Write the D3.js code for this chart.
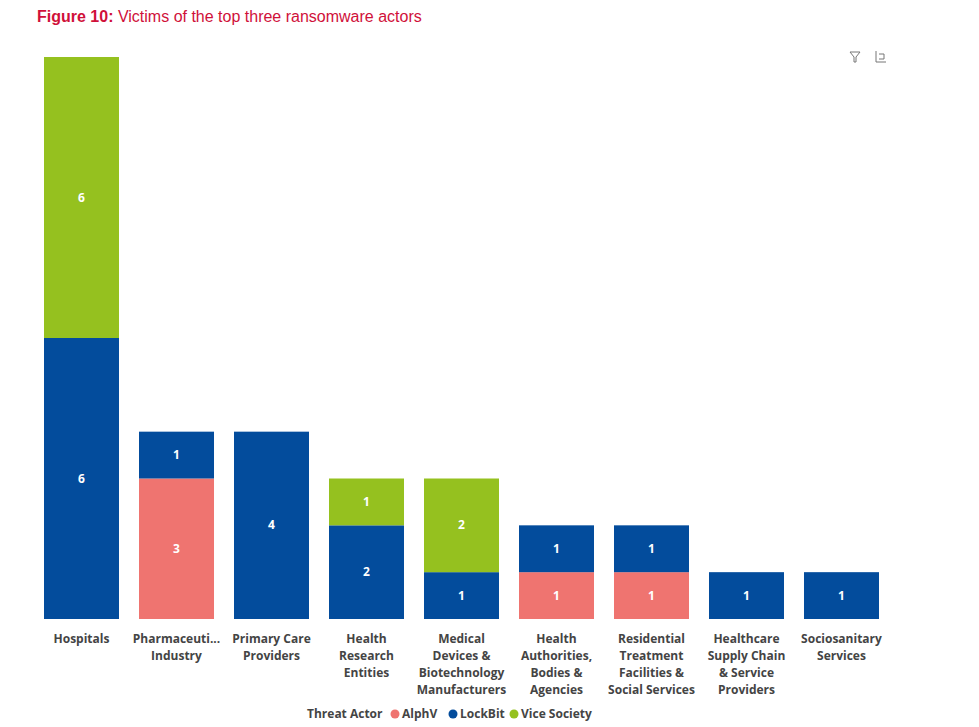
<!DOCTYPE html>
<html><head><meta charset="utf-8">
<script src="https://cdn.jsdelivr.net/npm/d3@7"></script>
<style>body{margin:0;background:#fff;font-family:"Segoe UI","Open Sans",Arial,sans-serif}</style>
</head><body><svg id="chart" width="979" height="727"></svg>
<script>
var categories = [
  ["Hospitals"],
  ["Pharmaceuti...", "Industry"],
  ["Primary Care", "Providers"],
  ["Health", "Research", "Entities"],
  ["Medical", "Devices &", "Biotechnology", "Manufacturers"],
  ["Health", "Authorities,", "Bodies &", "Agencies"],
  ["Residential", "Treatment", "Facilities &", "Social Services"],
  ["Healthcare", "Supply Chain", "& Service", "Providers"],
  ["Sociosanitary", "Services"]
];
var actors = ["AlphV", "LockBit", "Vice Society"];
var alphV = [0, 3, 0, 0, 0, 1, 1, 0, 0];
var lockBit = [6, 1, 4, 2, 1, 1, 1, 1, 1];
var viceSociety = [6, 0, 0, 1, 2, 0, 0, 0, 0];
var colors = ["#ef7470", "#034c9c", "#95c11f"];

var svg = d3.select("#chart");
svg.append("text").attr("x", 37).attr("y", 22).attr("font-family", "Arial, Liberation Sans, sans-serif")
  .attr("font-size", 16).attr("fill", "#d0103a")
  .html('<tspan font-weight="bold">Figure 10:</tspan> Victims of the top three ransomware actors');

var rows = categories.map(function (c, i) {
  return {i: i, AlphV: alphV[i], LockBit: lockBit[i], "Vice Society": viceSociety[i]};
});
var x = d3.scaleBand().domain(d3.range(categories.length)).range([44, 879]).paddingInner(0.2105);
var y = d3.scaleLinear().domain([0, 12]).range([619, 57]);
var stack = d3.stack().keys(actors)(rows);

var g = svg.selectAll("g.layer").data(stack).enter().append("g").attr("class", "layer")
  .attr("fill", function (d, i) { return colors[i]; });
g.selectAll("rect").data(function (d) { return d; }).enter().append("rect")
  .attr("x", function (d) { return x(d.data.i); })
  .attr("y", function (d) { return y(d[1]); })
  .attr("width", x.bandwidth())
  .attr("height", function (d) { return y(d[0]) - y(d[1]); });
g.selectAll("text").data(function (d) { return d.filter(function (s) { return s[1] > s[0]; }); })
  .enter().append("text")
  .attr("x", function (d) { return x(d.data.i) + x.bandwidth() / 2; })
  .attr("y", function (d) { return (y(d[0]) + y(d[1])) / 2 + 4; })
  .attr("text-anchor", "middle").attr("fill", "#fff").attr("font-size", 12).attr("font-weight", "bold")
  .text(function (d) { return d[1] - d[0]; });

categories.forEach(function (lines, i) {
  var t = svg.append("text").attr("text-anchor", "middle").attr("font-size", 12).attr("font-weight", "bold")
    .attr("fill", "#444").attr("x", x(i) + x.bandwidth() / 2);
  lines.forEach(function (l, k) {
    t.append("tspan").attr("x", x(i) + x.bandwidth() / 2).attr("y", 643 + k * 17).text(l);
  });
});

// legend
var lg = svg.append("g").attr("font-size", 12).attr("font-weight", "bold").attr("fill", "#444");
lg.append("text").attr("x", 307).attr("y", 718).text("Threat Actor");
var lx = [395, 453, 514];
actors.forEach(function (a, i) {
  lg.append("circle").attr("cx", lx[i]).attr("cy", 714).attr("r", 4.5).attr("fill", colors[i]);
  lg.append("text").attr("x", lx[i] + 7).attr("y", 718).text(a);
});

// header icons
var ic = svg.append("g").attr("stroke", "#777").attr("fill", "none").attr("stroke-width", 1);
ic.append("path").attr("d", "M850,52 L860,52 L856,57 L856,62 L854,62 L854,57 Z");
ic.append("path").attr("d", "M876,51 L876,62 L886,62 M879,54 L884,54 L884,59 L879,59");
</script></body></html>
